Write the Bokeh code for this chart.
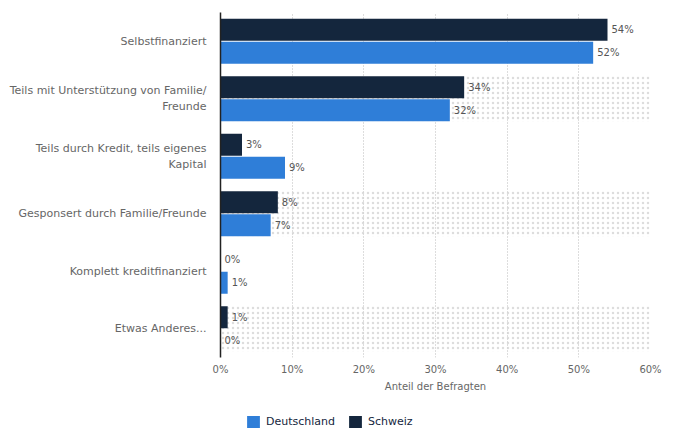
from bokeh.plotting import figure
from bokeh.layouts import column
from bokeh.models import ColumnDataSource, FactorRange, Legend, LegendItem, FixedTicker
from bokeh.transform import dodge
from bokeh.core.properties import value
from bokeh.embed import file_html
from bokeh.resources import INLINE

categories = [
    "Selbstfinanziert",
    "Teils mit Unterstützung von Familie/\nFreunde",
    "Teils durch Kredit, teils eigenes\nKapital",
    "Gesponsert durch Familie/Freunde",
    "Komplett kreditfinanziert",
    "Etwas Anderes...",
]
deutschland = [52, 32, 9, 7, 1, 0]
schweiz = [54, 34, 3, 8, 0, 1]
x_ticks = [0, 10, 20, 30, 40, 50, 60]
series_names = ["Deutschland", "Schweiz"]

BLUE = "#2f7ed8"
DARK = "#14263d"
FONT = "DejaVu Sans"

src = ColumnDataSource(dict(
    cat=categories,
    de=deutschland,
    ch=schweiz,
    de_lbl=[f"{v}%" for v in deutschland],
    ch_lbl=[f"{v}%" for v in schweiz],
))

band_src = ColumnDataSource(dict(cat=[categories[i] for i in (1, 3, 5)],
                                 left=[0] * 3, right=[60] * 3))

p = figure(width=679, height=400, output_backend="svg", toolbar_location=None,
           y_range=FactorRange(factors=categories[::-1]),
           x_range=(0, 60),
           min_border_left=220, min_border_right=29, min_border_top=12, min_border_bottom=43)
p.outline_line_color = None
p.background_fill_color = "white"

p.hbar(y="cat", left="left", right="right", height=0.8, source=band_src,
       fill_alpha=0, line_color=None, hatch_pattern=".", hatch_color="#d4d4d4",
       hatch_scale=5, hatch_weight=0.5, hatch_alpha=0.8)

p.hbar(y=dodge("cat", -0.2, range=p.y_range), left=0, right="de", height=0.38,
       source=src, color=BLUE, line_color=None)
p.hbar(y=dodge("cat", 0.2, range=p.y_range), left=0, right="ch", height=0.38,
       source=src, color=DARK, line_color=None)

p.text(x="de", y=dodge("cat", -0.2, range=p.y_range), text="de_lbl", source=src,
       x_offset=4, text_baseline="middle", text_font=value(FONT),
       text_font_size="10px", text_color="#555555")
p.text(x="ch", y=dodge("cat", 0.2, range=p.y_range), text="ch_lbl", source=src,
       x_offset=4, text_baseline="middle", text_font=value(FONT),
       text_font_size="10px", text_color="#555555")

p.xaxis.ticker = FixedTicker(ticks=x_ticks)
p.xaxis.major_label_overrides = {t: f"{t}%" for t in x_ticks}
p.xaxis.axis_label = "Anteil der Befragten"
p.xaxis.axis_label_text_font = FONT
p.xaxis.axis_label_text_font_style = "normal"
p.xaxis.axis_label_text_font_size = "10px"
p.xaxis.axis_label_text_color = "#666666"
p.xaxis.axis_label_standoff = 3
p.xaxis.major_label_text_font = FONT
p.xaxis.major_label_text_font_size = "10px"
p.xaxis.major_label_text_color = "#666666"
p.xaxis.axis_line_color = None
p.xaxis.major_tick_line_color = None
p.xaxis.minor_tick_line_color = None
p.xaxis.major_tick_out = 0
p.xaxis.major_label_standoff = 6

p.yaxis.major_label_text_font = FONT
p.yaxis.major_label_text_font_size = "11px"
p.yaxis.major_label_text_color = "#666666"
p.yaxis.axis_line_color = "#222222"
p.yaxis.axis_line_width = 1.5
p.yaxis.major_tick_line_color = None
p.yaxis.minor_tick_line_color = None
p.yaxis.major_tick_out = 0
p.yaxis.major_label_standoff = 14

p.ygrid.grid_line_color = None
p.xgrid.grid_line_color = "#bbbbbb"
p.xgrid.grid_line_dash = "1 2"

# legend in a separate strip below (its frame is aligned with the chart frame)
lg = figure(width=679, height=48, output_backend="svg", toolbar_location=None,
            x_range=(0, 1), y_range=(0, 1), x_axis_location=None, y_axis_location=None,
            min_border=0)
lg.outline_line_color = None
lg.xgrid.visible = False
lg.ygrid.visible = False
offscreen = ColumnDataSource(dict(y=[-10], right=[-10]))
g_de = lg.hbar(y="y", right="right", height=0.1, source=offscreen, color=BLUE, line_color=None)
g_ch = lg.hbar(y="y", right="right", height=0.1, source=offscreen, color=DARK, line_color=None)

legend = Legend(items=[LegendItem(label=series_names[0], renderers=[g_de]),
                       LegendItem(label=series_names[1], renderers=[g_ch])],
                orientation="horizontal", location=(25, 19),
                label_text_font=FONT, label_text_font_size="11px",
                label_text_color="#14263d", border_line_color=None,
                background_fill_alpha=0, glyph_width=16, glyph_height=15,
                spacing=12, label_standoff=5, padding=4, margin=0)
lg.add_layout(legend, "center")

layout = column(p, lg, spacing=0)
open("out.html", "w").write(file_html(layout, INLINE))
